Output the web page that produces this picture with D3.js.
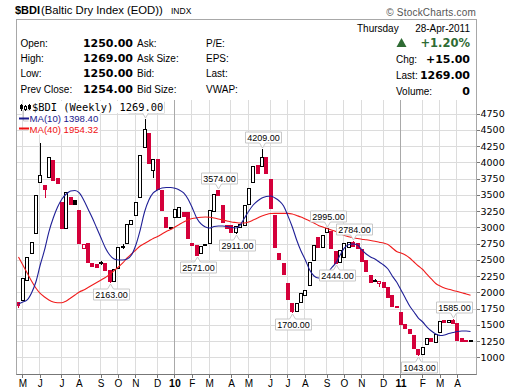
<!DOCTYPE html>
<html>
<head>
  <meta charset="utf-8">
  <title>$BDI Weekly</title>
  <script src="https://cdn.jsdelivr.net/npm/d3@7/dist/d3.min.js"></script>
  <style type="text/css">
    html, body { margin: 0; padding: 0; background: #fff; }
    svg { display: block; font-family: "Liberation Sans", Arial, sans-serif; }
    .grid line { stroke: #dcdcdc; stroke-width: 1px; shape-rendering: crispEdges; }
    .grid line.year { stroke: #a9a9a9; }
    .axis path { display: none; }
    .axis line { stroke: #777; shape-rendering: crispEdges; }
    .y.axis text { font-family: "DejaVu Sans", sans-serif; font-size: 9.5px; fill: #000; }
    .x.axis text { font-size: 10px; fill: #000; }
    .x.axis text.year { font-weight: bold; font-size: 10.5px; }
    .head { font-size: 10px; fill: #000; }
    .num { font-family: "DejaVu Sans", sans-serif; font-weight: bold; font-size: 11px; fill: #000; }
    .callout path { fill: #fff; stroke: #c8c8c8; stroke-width: 1px; }
    .callout text { font-size: 9px; fill: #000; text-anchor: middle; }
  </style>
</head>
<body>
<svg id="chart" width="520" height="391"></svg>
<script type="text/javascript">
  // weekly bars (Monday of each week)
  var weeks = d3.timeMonday.range(new Date(2009, 3, 27), new Date(2011, 3, 26));

  var openV = [
    1851, 1882, 2189, 2600, 2908, 3692, 3651, 3778, 4035, 3754,
    3385, 2985, 3466, 3420, 3266, 2677, 2763, 2446, 2430, 2455,
    2446, 2343, 2178, 2369, 2690, 2754, 3051, 3189, 3471, 4231,
    4446, 3882, 4046, 3574, 3154, 3005, 3154, 3159, 3231, 3240,
    2763, 2728, 2600, 2745, 2763, 3255, 3570, 3343, 3035, 3035,
    2935, 3009, 3035, 3354, 3702, 3958, 3943, 4082, 3743, 3189,
    2600, 2446, 2138, 1831, 1712, 1846, 1958, 2112, 2497, 2855,
    2702, 2923, 2950, 2628, 2471, 2550, 2690, 2780, 2755, 2666,
    2500, 2266, 2180, 2140, 2163, 2077, 1958, 1789, 1702, 1508,
    1431, 1343, 1128, 1051, 1205, 1292, 1240, 1394, 1574, 1538,
    1580, 1523, 1290, 1272, 1262
  ];
  var highV = [
    1851, 2220, 2543, 2778, 3497, 4291, 3651, 4077, 4035, 3754,
    3385, 3548, 3466, 3420, 3266, 2750, 2763, 2446, 2430, 2480,
    2446, 2343, 2358, 2702, 2740, 3051, 3112, 3394, 4112, 4661,
    4446, 4046, 4046, 3574, 3154, 3009, 3277, 3308, 3231, 3240,
    2763, 2728, 2717, 2745, 3266, 3510, 3574, 3343, 3035, 3035,
    3020, 3051, 3343, 3609, 3943, 3958, 4209, 4082, 3743, 3189,
    2600, 2446, 2138, 1831, 1831, 1985, 2035, 2471, 2728, 2855,
    2882, 2995, 2950, 2628, 2651, 2760, 2780, 2784, 2755, 2666,
    2500, 2266, 2200, 2175, 2163, 2077, 1958, 1789, 1702, 1508,
    1431, 1343, 1128, 1163, 1292, 1292, 1354, 1563, 1574, 1580,
    1585, 1523, 1290, 1272, 1269
  ];
  var lowV = [
    1774, 1882, 2189, 2600, 2908, 3692, 3471, 3778, 3728, 3677,
    2985, 2985, 3358, 3365, 2763, 2677, 2462, 2409, 2395, 2440,
    2343, 2163, 2178, 2369, 2680, 2754, 3051, 3189, 3471, 4231,
    3985, 3769, 3585, 3266, 3000, 3005, 3154, 3159, 3174, 2840,
    2728, 2571, 2600, 2725, 2763, 3255, 3500, 3086, 2985, 2935,
    2911, 3009, 3035, 3354, 3702, 3835, 3943, 3843, 3292, 2697,
    2512, 2277, 1897, 1700, 1712, 1846, 1958, 2112, 2497, 2702,
    2702, 2923, 2680, 2444, 2471, 2550, 2690, 2705, 2677, 2482,
    2330, 2163, 2170, 2100, 2082, 1932, 1789, 1769, 1508, 1446,
    1369, 1138, 1043, 1051, 1205, 1255, 1240, 1394, 1538, 1538,
    1523, 1265, 1255, 1250, 1250
  ];
  var closeV = [
    1805, 2220, 2543, 2778, 3497, 3805, 3585, 4077, 3728, 3677,
    2985, 3548, 3358, 3365, 2763, 2750, 2462, 2409, 2395, 2460,
    2343, 2178, 2358, 2702, 2717, 3051, 3112, 3394, 4112, 4508,
    3985, 4046, 3585, 3266, 3000, 3009, 3277, 3308, 3174, 2840,
    2728, 2574, 2717, 2725, 3266, 3510, 3500, 3086, 2985, 2935,
    3020, 3051, 3343, 3609, 3943, 3835, 4082, 3843, 3292, 2697,
    2512, 2277, 1897, 1712, 1831, 1985, 2035, 2471, 2728, 2702,
    2882, 2985, 2680, 2450, 2651, 2760, 2775, 2705, 2677, 2482,
    2330, 2163, 2185, 2175, 2082, 1932, 1789, 1769, 1508, 1446,
    1369, 1138, 1050, 1163, 1292, 1255, 1354, 1563, 1538, 1575,
    1523, 1265, 1255, 1250, 1269
  ];
  var ma10 = [
    1820, 1851, 1882, 1989, 2158, 2420, 2651, 2931, 3143, 3312,
    3435, 3512, 3558, 3566, 3528, 3420, 3282, 3143, 2989, 2835,
    2682, 2574, 2512, 2497, 2497, 2512, 2574, 2728, 2958, 3235,
    3420, 3528, 3574, 3605, 3612, 3612, 3600, 3574, 3528, 3435,
    3297, 3143, 3051, 3005, 2989, 3012, 3020, 3020, 3012, 2997,
    2989, 3035, 3143, 3251, 3343, 3405, 3451, 3474, 3482, 3451,
    3405, 3328, 3174, 3005, 2805, 2635, 2497, 2343, 2251, 2220,
    2220, 2282, 2374, 2451, 2574, 2682, 2735, 2743, 2728, 2651,
    2589, 2543, 2512, 2466, 2420, 2358, 2251, 2158, 2035, 1912,
    1789, 1697, 1604, 1543, 1466, 1404, 1358, 1335, 1343, 1366,
    1382, 1397, 1405, 1405, 1398
  ];
  var ma40 = [
    2543, 2420, 2297, 2174, 2066, 1982, 1928, 1882, 1851, 1840,
    1840, 1866, 1912, 1958, 2005, 2035, 2074, 2112, 2151, 2189,
    2228, 2274, 2335, 2389, 2451, 2528, 2589, 2651, 2712, 2751,
    2789, 2828, 2858, 2897, 2935, 2966, 3005, 3043, 3082, 3112,
    3135, 3146, 3154, 3159, 3154, 3143, 3128, 3112, 3097, 3082,
    3074, 3066, 3066, 3082, 3112, 3143, 3174, 3197, 3212, 3215,
    3215, 3215, 3215, 3205, 3182, 3158, 3128, 3097, 3066, 3028,
    3005, 2982, 2958, 2935, 2905, 2874, 2854, 2839, 2828, 2817,
    2808, 2797, 2785, 2771, 2758, 2735, 2682, 2628, 2605, 2574,
    2528, 2466, 2405, 2351, 2274, 2205, 2135, 2097, 2066, 2046,
    2028, 2012, 1992, 1974, 1954
  ];

  // bars that get a value callout
  var peakBars = [5, 29, 46, 56, 71, 77, 100];
  var troughBars = [21, 41, 50, 63, 73, 92];

  var yTicks = [1000, 1250, 1500, 1750, 2000, 2250, 2500, 2750, 3000, 3250, 3500, 3750, 4000, 4250, 4500, 4750];
  var monthLabels = ['M', 'J', 'J', 'A', 'S', 'O', 'N', 'D', '10', 'F', 'M', 'A',
    'M', 'J', 'J', 'A', 'S', 'O', 'N', 'D', '11', 'F', 'M', 'A'];

  var svg = d3.select('#chart');
  var plot = { left: 17, right: 476, top: 100, bottom: 374 };
  var legendBox = { right: 165, bottom: 136 };   // callouts under the legend stay hidden

  var x = d3.scaleBand().domain(weeks).range([16.3, 472.7]);
  var y = d3.scaleLinear().domain([1000, 4750]).range([357.3, 113.55]);
  function xc(i) { return x(weeks[i]) + x.bandwidth() / 2; }

  var bars = weeks.map(function (d, i) {
    return {
      date: d, i: i,
      o: openV[i], h: highV[i], l: lowV[i], c: closeV[i],
      prev: i ? closeV[i - 1] : openV[i]
    };
  });

  // first bar of each month
  var monthStarts = weeks.filter(function (d, i) {
    return i > 0 && d.getMonth() !== weeks[i - 1].getMonth();
  });

  svg.append('rect').attr('width', 520).attr('height', 391).attr('fill', '#fff');

  svg.append('clipPath').attr('id', 'plotclip')
    .append('rect')
    .attr('x', plot.left).attr('y', plot.top)
    .attr('width', plot.right - plot.left).attr('height', plot.bottom - plot.top);

  // grid
  var grid = svg.append('g').attr('class', 'grid');
  grid.selectAll('line.h')
    .data(yTicks)
    .enter()
    .append('line')
    .attr('class', 'h')
    .attr('x1', plot.left).attr('x2', plot.right)
    .attr('y1', d => Math.round(y(d)) + 0.5)
    .attr('y2', d => Math.round(y(d)) + 0.5);
  grid.selectAll('line.v')
    .data(monthStarts)
    .enter()
    .append('line')
    .attr('class', d => d.getMonth() === 0 ? 'v year' : 'v')
    .attr('x1', d => Math.round(x(d) + x.bandwidth() / 2 - 1) + 0.5)
    .attr('x2', d => Math.round(x(d) + x.bandwidth() / 2 - 1) + 0.5)
    .attr('y1', plot.top).attr('y2', plot.bottom);

  // candles
  var red = '#d4003a';
  var plotG = svg.append('g').attr('clip-path', 'url(#plotclip)');
  var candle = plotG.selectAll('g.bar')
    .data(bars)
    .enter()
    .append('g')
    .attr('class', 'bar');

  function barColor(d) { return d.c < d.prev || (d.i === 0 && d.c < d.o) ? red : '#000'; }
  function bodyX(d) { return Math.round(xc(d.i) - 2); }

  candle.append('line')
    .attr('x1', d => bodyX(d) + 2)
    .attr('x2', d => bodyX(d) + 2)
    .attr('y1', d => Math.round(y(d.h)))
    .attr('y2', d => Math.round(y(d.l)) + 1)
    .attr('stroke', barColor)
    .attr('stroke-width', 1)
    .attr('shape-rendering', 'crispEdges');

  candle.append('rect')
    .attr('x', d => bodyX(d) + 0.5)
    .attr('width', 3)
    .attr('y', d => Math.round(y(Math.max(d.o, d.c))) + 0.5)
    .attr('height', d => Math.max(1, Math.round(y(Math.min(d.o, d.c))) - Math.round(y(Math.max(d.o, d.c)))))
    .attr('fill', d => d.c >= d.o ? '#fff' : barColor(d))
    .attr('stroke', barColor)
    .attr('stroke-width', 1)
    .attr('shape-rendering', 'crispEdges');

  // moving averages
  var maLine = d3.line()
    .x((d, i) => xc(i))
    .y(d => y(d))
    .curve(d3.curveMonotoneX);

  plotG.append('path')
    .datum(ma40)
    .attr('fill', 'none')
    .attr('stroke', '#f01c1c')
    .attr('stroke-width', 1.1)
    .attr('d', maLine);

  plotG.append('path')
    .datum(ma10)
    .attr('fill', 'none')
    .attr('stroke', '#1f1f96')
    .attr('stroke-width', 1.1)
    .attr('d', maLine);

  // callouts
  function callout(i, value, above) {
    var cx = Math.round(xc(i)) + 0.5;
    var tip = above ? Math.round(y(value)) - 1 : Math.round(y(value)) + 2;
    var bw = 36, bh = 11;
    var bx = Math.round(cx - bw / 2) + 0.5;
    var by = above ? tip - 5 - bh : tip + 5;
    // lift a callout that would sit half in and half under the legend
    if (above && bx < legendBox.right && by < legendBox.bottom && by + bh > legendBox.bottom - 14) {
      by = legendBox.bottom - 14 - bh - 1;
      tip = by + bh + 4;
    }
    var edge = above ? by + bh : by;
    var far = above ? by : by + bh;
    var p = ['M', bx, far, 'H', bx + bw, 'V', edge, 'H', cx + 3, 'L', cx, tip, 'L', cx - 3, edge, 'H', bx, 'Z'].join(' ');
    var g = svg.append('g').attr('class', 'callout');
    g.append('path').attr('d', p);
    var hidden = bx < legendBox.right && by < legendBox.bottom;
    if (!hidden) {
      g.append('text')
        .attr('x', bx + bw / 2)
        .attr('y', by + bh - 2.5)
        .text(value.toFixed(2));
    }
  }
  peakBars.forEach(i => callout(i, highV[i], true));
  troughBars.forEach(i => callout(i, lowV[i], false));

  // frame
  svg.append('rect')
    .attr('x', 16.5).attr('y', 19.5)
    .attr('width', 460).attr('height', 355)
    .attr('fill', 'none')
    .attr('stroke', '#a8a8a8')
    .attr('shape-rendering', 'crispEdges');

  // axes
  var yAxis = d3.axisRight(y)
    .tickValues(yTicks)
    .tickSizeInner(3)
    .tickSizeOuter(0)
    .tickPadding(1)
    .tickFormat(d3.format('d'));
  svg.append('g')
    .attr('class', 'y axis')
    .attr('transform', 'translate(476.5,0)')
    .call(yAxis);

  var xAxis = d3.axisBottom(x)
    .tickValues(monthStarts)
    .tickSizeInner(3)
    .tickSizeOuter(0)
    .tickPadding(2)
    .tickFormat((d, i) => monthLabels[i]);
  var xg = svg.append('g')
    .attr('class', 'x axis')
    .attr('transform', 'translate(0,374.5)')
    .call(xAxis);
  xg.selectAll('.tick text')
    .classed('year', d => d.getMonth() === 0);

  svg.append('line')
    .attr('x1', 16.5).attr('x2', 476.5)
    .attr('y1', 374.5).attr('y2', 374.5)
    .attr('stroke', '#777');

  // legend
  var legend = svg.append('g');
  function legendText(tx, ty, str, color, font, size) {
    var t = legend.append('text')
      .attr('x', tx).attr('y', ty)
      .attr('fill', color)
      .style('font-family', font)
      .style('font-size', size + 'px')
      .text(str);
    var b = t.node().getBBox();
    legend.insert('rect', 'text')
      .attr('x', b.x - 1).attr('y', b.y)
      .attr('width', b.width + 2).attr('height', b.height)
      .attr('fill', '#fff');
  }
  legendText(32, 111, '$BDI (Weekly) 1269.00', '#000', '"DejaVu Sans Mono", monospace', 10.4);
  legendText(29.5, 122, 'MA(10) 1398.40', '#1a1a8c', '"Liberation Sans", Arial, sans-serif', 9.6);
  legendText(29.5, 132.5, 'MA(40) 1954.32', '#ee1111', '"Liberation Sans", Arial, sans-serif', 9.6);

  // little candle glyph
  var icon = legend.append('g').attr('shape-rendering', 'crispEdges');
  icon.append('line').attr('x1', 21.5).attr('x2', 21.5).attr('y1', 104).attr('y2', 111).attr('stroke', '#000');
  icon.append('rect').attr('x', 20).attr('y', 105).attr('width', 3).attr('height', 4).attr('fill', '#000');
  icon.append('line').attr('x1', 25.5).attr('x2', 25.5).attr('y1', 105).attr('y2', 111).attr('stroke', '#000');
  icon.append('rect').attr('x', 24.5).attr('y', 106.5).attr('width', 2).attr('height', 3).attr('fill', '#fff').attr('stroke', '#000');
  icon.append('line').attr('x1', 29.5).attr('x2', 29.5).attr('y1', 104).attr('y2', 110).attr('stroke', '#000');
  icon.append('rect').attr('x', 28).attr('y', 104.5).attr('width', 3).attr('height', 4).attr('fill', '#000');

  legend.append('line').attr('x1', 19).attr('x2', 29).attr('y1', 118.5).attr('y2', 118.5)
    .attr('stroke', '#1a1a8c').attr('stroke-width', 2);
  legend.append('line').attr('x1', 19).attr('x2', 29).attr('y1', 128.5).attr('y2', 128.5)
    .attr('stroke', '#ee1111').attr('stroke-width', 2);

  // header
  var head = svg.append('g');
  head.append('text').attr('x', 15).attr('y', 14)
    .style('font-weight', 'bold').style('font-size', '11px').text('$BDI');
  head.append('text').attr('x', 41).attr('y', 14)
    .style('font-size', '11.3px').text('(Baltic Dry Index (EOD))');
  head.append('text').attr('x', 171).attr('y', 14)
    .style('font-size', '8.5px').text('INDX');
  head.append('text').attr('x', 476).attr('y', 15.5)
    .attr('text-anchor', 'end').attr('fill', '#555')
    .style('font-size', '10px').style('letter-spacing', '0.2px').text('\u00a9 StockCharts.com');

  var rowsY = [46.5, 61.8, 77.2, 92.5];
  var leftLabels = ['Open:', 'High:', 'Low:', 'Prev Close:'];
  var leftValues = ['1250.00', '1269.00', '1250.00', '1254.00'];
  var midLabels = ['Ask:', 'Ask Size:', 'Bid:', 'Bid Size:'];
  var rightLabels = ['P/E:', 'EPS:', 'Last:', 'VWAP:'];

  rowsY.forEach(function (ry, k) {
    head.append('text').attr('class', 'head').attr('x', 20.5).attr('y', ry).text(leftLabels[k]);
    head.append('text').attr('class', 'num').attr('x', 133).attr('y', ry)
      .attr('text-anchor', 'end').text(leftValues[k]);
    head.append('text').attr('class', 'head').attr('x', 137).attr('y', ry).text(midLabels[k]);
    head.append('text').attr('class', 'head').attr('x', 206).attr('y', ry).text(rightLabels[k]);
  });

  head.append('text').attr('class', 'head').attr('x', 357).attr('y', 31.5).text('Thursday');
  head.append('text').attr('class', 'head').attr('x', 470).attr('y', 31.5)
    .attr('text-anchor', 'end').text('28-Apr-2011');

  head.append('path')
    .attr('d', 'M396.5,47 L401.5,38 L406.5,47 Z')
    .attr('fill', '#2f6b34');
  head.append('text').attr('x', 470).attr('y', 46.7)
    .attr('text-anchor', 'end').attr('fill', '#2f6b34')
    .style('font-family', '"DejaVu Sans", sans-serif')
    .style('font-weight', 'bold').style('font-size', '11.5px').text('+1.20%');

  var sideY = [63.3, 79.3, 95];
  var sideLabels = ['Chg:', 'Last:', 'Volume:'];
  var sideValues = ['+15.00', '1269.00', '0'];
  sideY.forEach(function (ry, k) {
    head.append('text').attr('class', 'head').attr('x', 396).attr('y', ry).text(sideLabels[k]);
    head.append('text').attr('class', 'num').attr('x', 470).attr('y', ry)
      .attr('text-anchor', 'end').text(sideValues[k]);
  });
</script>
</body>
</html>
